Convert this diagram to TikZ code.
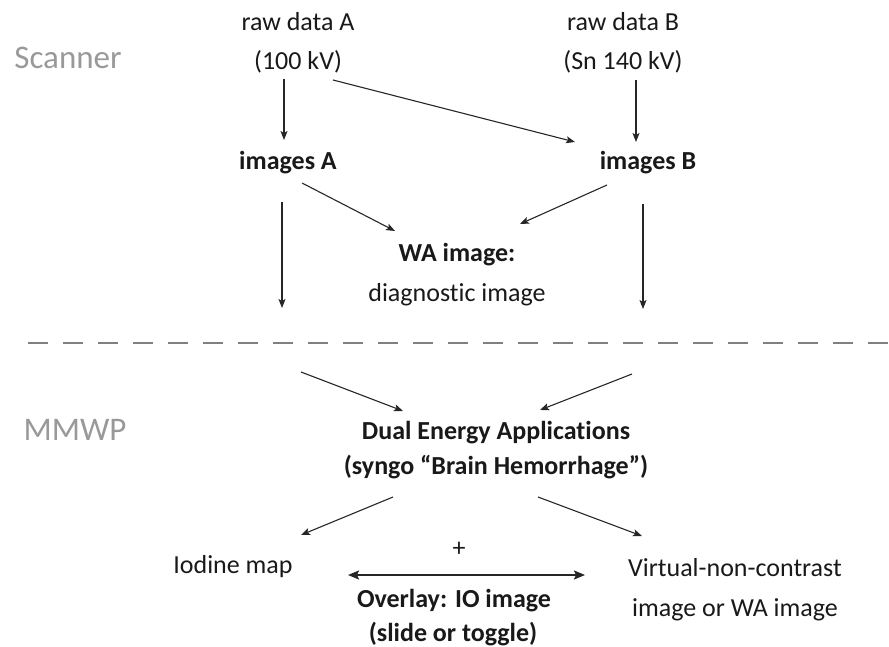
\documentclass[tikz,border=0pt]{standalone}
\usepackage{fontspec}
\setmainfont[Ligatures=NoCommon]{Carlito}
\usetikzlibrary{arrows.meta,calc}
\begin{document}
\begin{tikzpicture}[x=1pt,y=-1pt,
  txt/.style={inner sep=0pt,font=\fontsize{26}{30}\selectfont,text=black!90},
  btxt/.style={txt,font=\fontsize{26}{30}\selectfont\bfseries},
  side/.style={inner sep=0pt,font=\fontsize{33}{38}\selectfont,text=black!40},
  arr/.style={draw=black!85,line width=1.1pt,-{Stealth[length=9pt,width=7pt,inset=2pt]}},
  darr/.style={draw=black!85,line width=1.8pt,{Stealth[length=11pt,width=9pt,inset=2pt]}-{Stealth[length=11pt,width=9pt,inset=2pt]}},
  sep/.style={draw=black!50,line width=2.5pt,dash pattern=on 20pt off 15pt}]
\useasboundingbox (0,0) rectangle (889,647);
% side labels
\node[side] (scanner) at (68,58) {Scanner};
\node[side] (mmwp) at (75,430) {MMWP};
% top
\node[txt] (rawA) at (298,22) {raw data A};
\node[txt] (kvA) at (298,62) {(100 kV)};
\node[txt] (rawB) at (623,22) {raw data B};
\node[txt] (kvB) at (623,62) {(Sn 140 kV)};
\node[btxt] (imgA) at (288,163) {images A};
\node[btxt] (imgB) at (648,163) {images B};
\node[btxt] (wa) at (457,255) {WA image:};
\node[txt] (diag) at (457,295) {diagnostic image};
% separator
\coordinate (sepL) at (28,343);
\coordinate (sepR) at (889,343);
\draw[sep] (sepL) -- (sepR);
\coordinate (downA) at (282,308);
\coordinate (downB) at (643,309);
\coordinate (upA) at (301,372);
\coordinate (upB) at (632,374);
% bottom
\node[btxt] (dea) at (496,433) {Dual Energy Applications};
\node[btxt] (syngo) at (496,467) {(syngo \textquotedblleft Brain Hemorrhage\textquotedblright)};
\node[txt] (iod) at (233,567) {Iodine map};
\node[txt] (plus) at (459,549) {+};
\node[btxt] (overlay) at (454,601) {Overlay: IO image};
\node[btxt] (slide) at (453,634) {(slide or toggle)};
\node[txt] (vnc) at (735,568) {Virtual-non-contrast};
\node[txt] (vnc2) at (735,610) {image or WA image};
% arrows
\draw[arr] ($(kvA)+(-14,17)$) -- ($(imgA)+(-4,-23)$);
\draw[arr] ($(kvA)+(35,18)$) -- ($(imgB)+(-73,-21)$);
\draw[arr] ($(kvB)+(13,18)$) -- ($(imgB)+(-12,-21)$);
\draw[arr] ($(imgA)+(14,20)$) -- ($(wa)+(-62,-24)$);
\draw[arr] ($(imgB)+(-41,22)$) -- ($(wa)+(63,-31)$);
\draw[arr] ($(imgA)+(-6,39)$) -- (downA);
\draw[arr] ($(imgB)+(-5,41)$) -- (downB);
\draw[arr] (upA) -- ($(dea)+(-93,-22)$);
\draw[arr] (upB) -- ($(dea)+(44,-23)$);
\draw[arr] ($(syngo)+(-103,30)$) -- ($(iod)+(68,-32)$);
\draw[arr] ($(syngo)+(42,30)$) -- ($(vnc)+(-93,-32)$);
\draw[darr] ($(overlay)+(-106,-26)$) -- ($(overlay)+(131,-26)$);
\end{tikzpicture}
\end{document}
